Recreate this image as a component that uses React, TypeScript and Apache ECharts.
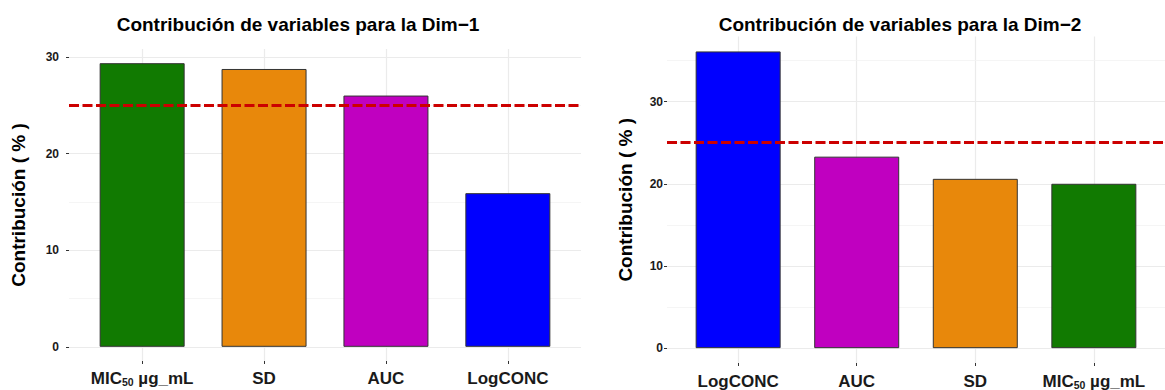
import React, { useEffect, useRef } from 'react';
import * as echarts from 'echarts';

const FONT = '"Liberation Sans", Arial, Helvetica, sans-serif';

// ---- data ----
const dim1Title = 'Contribución de variables para la Dim−1';
const dim2Title = 'Contribución de variables para la Dim−2';
const yAxisTitle = 'Contribución ( % )';

const dim1Categories = ['MIC50 µg_mL', 'SD', 'AUC', 'LogCONC'];
const dim1Values = [29.35, 28.75, 26.0, 15.9];

const dim2Categories = ['LogCONC', 'AUC', 'SD', 'MIC50 µg_mL'];
const dim2Values = [36.1, 23.3, 20.6, 20.0];

const expectedContribution = 25;

const yMajorTicks = [0, 10, 20, 30];
const dim1MinorTicks = [5, 15, 25];
const dim2MinorTicks = [5, 15, 25, 35];

const variableColors: Record<string, string> = {
  'MIC50 µg_mL': '#117A01',
  SD: '#E8880B',
  AUC: '#C000C0',
  LogCONC: '#0000FF',
};

function catLabel(name: string): string {
  const m = name.match(/^MIC(50)\s(.*)$/);
  if (m) return `{n|MIC}{s|${m[1]}}{n| ${m[2]}}`;
  return `{n|${name}}`;
}

type PanelCfg = {
  idx: number;
  cats: string[];
  vals: number[];
  minor: number[];
  yLabelMargin: number;
  xLabelMargin: number;
  nameGap: number;
};

function buildPanel(p: PanelCfg) {
  const n = p.cats.length;
  const top = Math.max(...p.vals);
  const xAxis = {
    type: 'value',
    gridIndex: p.idx,
    min: -0.6,
    max: n - 1 + 0.6,
    axisLine: { show: false, onZero: false },
    splitLine: { show: false },
    axisTick: {
      show: true,
      customValues: p.cats.map((_, i) => i),
      length: 3,
      lineStyle: { color: '#333333', width: 1 },
    },
    axisLabel: {
      customValues: p.cats.map((_, i) => i),
      margin: p.xLabelMargin,
      formatter: (v: number) => catLabel(p.cats[Math.round(v)] ?? ''),
      rich: {
        n: { fontSize: 17, fontWeight: 'bold', color: '#1a1a1a', fontFamily: FONT },
        s: { fontSize: 10.5, fontWeight: 'bold', color: '#1a1a1a', fontFamily: FONT, verticalAlign: 'bottom', padding: [6, 0, 0, 0] },
      },
    },
  };
  const yAxis = {
    type: 'value',
    gridIndex: p.idx,
    min: -0.05 * top,
    max: 1.05 * top,
    axisLine: { show: false, onZero: false },
    splitLine: { show: false },
    axisTick: {
      show: true,
      customValues: yMajorTicks,
      length: 3,
      lineStyle: { color: '#333333', width: 1 },
    },
    axisLabel: {
      customValues: yMajorTicks,
      margin: p.yLabelMargin,
      fontSize: 12,
      fontWeight: 'bold',
      color: '#1a1a1a',
      fontFamily: FONT,
    },
    name: yAxisTitle,
    nameLocation: 'middle',
    nameGap: p.nameGap,
    nameTextStyle: { fontSize: 19, fontWeight: 'bold', color: '#000', fontFamily: FONT },
  };
  const gridData: any[] = [
    ...p.cats.map((_, i) => ({ xAxis: i, lineStyle: { color: '#EBEBEB', width: 1.2, type: 'solid' } })),
    ...yMajorTicks.map((v) => ({ yAxis: v, lineStyle: { color: '#EBEBEB', width: 1.2, type: 'solid' } })),
    ...p.minor.map((v) => ({ yAxis: v, lineStyle: { color: '#F3F3F3', width: 0.8, type: 'solid' } })),
  ];
  const series = [
    {
      type: 'bar',
      xAxisIndex: p.idx,
      yAxisIndex: p.idx,
      barWidth: 85,
      z: 2,
      data: p.vals.map((v, i) => ({
        value: [i, v],
        itemStyle: { color: variableColors[p.cats[i]], borderColor: '#333333', borderWidth: 1 },
      })),
      markLine: {
        z: 1,
        silent: true,
        symbol: ['none', 'none'],
        label: { show: false },
        emphasis: { disabled: true },
        data: gridData,
      },
    },
    {
      type: 'line',
      xAxisIndex: p.idx,
      yAxisIndex: p.idx,
      data: [],
      showSymbol: false,
      z: 5,
      markLine: {
        z: 6,
        silent: true,
        symbol: ['none', 'none'],
        label: { show: false },
        emphasis: { disabled: true },
        lineStyle: { color: '#CC0000', width: 3, type: [10, 3.5] },
        data: [{ yAxis: expectedContribution }],
      },
    },
  ];
  return { xAxis, yAxis, series };
}

export default function App() {
  const ref = useRef<HTMLDivElement>(null);
  useEffect(() => {
    if (!ref.current) return;
    const chart = echarts.init(ref.current, undefined, { renderer: 'svg' });
    const p1 = buildPanel({ idx: 0, cats: dim1Categories, vals: dim1Values, minor: dim1MinorTicks, yLabelMargin: 10, xLabelMargin: 9, nameGap: 41 });
    const p2 = buildPanel({ idx: 1, cats: dim2Categories, vals: dim2Values, minor: dim2MinorTicks, yLabelMargin: 4, xLabelMargin: 10, nameGap: 32 });
    chart.setOption({
      animation: false,
      backgroundColor: '#ffffff',
      textStyle: { fontFamily: FONT },
      title: [
        { text: dim1Title, left: 293, top: 10, textAlign: 'center', textStyle: { fontSize: 19, fontWeight: 'bold', color: '#000', fontFamily: FONT } },
        { text: dim2Title, left: 895, top: 10, textAlign: 'center', textStyle: { fontSize: 19, fontWeight: 'bold', color: '#000', fontFamily: FONT } },
      ],
      grid: [
        { left: 69, top: 49, width: 512, height: 312, containLabel: false },
        { left: 667, top: 36.6, width: 510, height: 327.3, containLabel: false },
      ],
      xAxis: [p1.xAxis, p2.xAxis],
      yAxis: [p1.yAxis, p2.yAxis],
      series: [...p1.series, ...p2.series],
    } as any);
    return () => chart.dispose();
  }, []);
  return <div ref={ref} style={{ position: 'absolute', left: 0, top: 0, width: 1165, height: 390 }} />;
}
